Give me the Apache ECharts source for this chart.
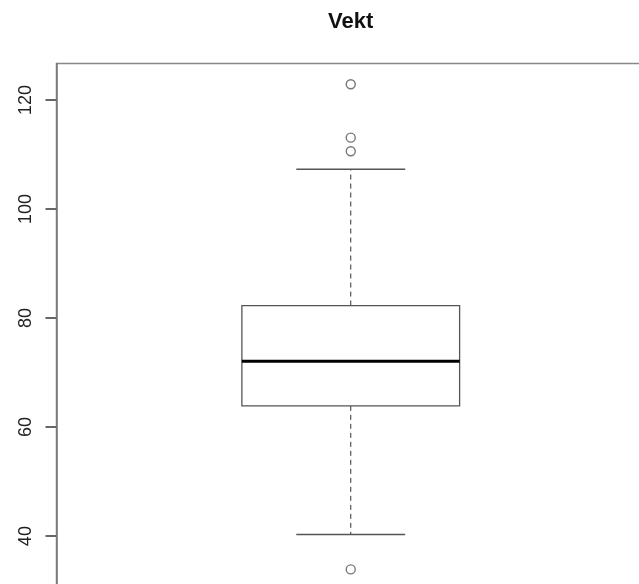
<!DOCTYPE html>
<html>
<head>
<meta charset="utf-8">
<script src="https://cdn.jsdelivr.net/npm/echarts@6/dist/echarts.min.js"></script>
<style>
html,body{margin:0;padding:0;background:#fff;overflow:hidden;}
#chart{width:645px;height:589px;}
</style>
</head>
<body>
<div id="chart"></div>
<script>
// Data
const categories = ['Vekt'];
// [min whisker, Q1, median, Q3, max whisker]
const boxStats = [[40.3, 63.9, 72.1, 82.3, 107.3]];
const outliers = [122.9, 113.1, 110.6, 33.9];
const yTicks = [40, 60, 80, 100, 120];

const chart = echarts.init(document.getElementById('chart'), null, {renderer: 'canvas'});

const boxHalf = 0.37;   // half box width in x-units
const capHalf = 0.185;  // half whisker cap width in x-units

const boxData = boxStats.map((s, i) => [i + 1].concat(s));
const outlierData = outliers.map(v => [1, v]);

chart.setOption({
  animation: false,
  title: {
    text: categories[0],
    left: 323,
    top: 6,
    textStyle: {fontFamily: 'Liberation Sans', fontWeight: 'bold', fontSize: 22, color: '#111'}
  },
  grid: {left: 56.5, right: 0, top: 63.5, bottom: 0, show: true, borderColor: '#888', borderWidth: 1.5},
  xAxis: {type: 'value', min: 0, max: 2, show: false},
  yAxis: {
    type: 'value', min: 30.3, max: 126.7,
    splitLine: {show: false},
    axisLine: {show: true, lineStyle: {color: '#777', width: 1.5}},
    axisTick: {show: true, inside: false, length: 11, lineStyle: {color: '#666', width: 2}, customValues: yTicks},
    axisLabel: {
      rotate: 90, margin: 21, color: '#222', fontSize: 18, fontFamily: 'Liberation Sans',
      customValues: yTicks
    }
  },
  series: [
    {
      type: 'custom',
      data: boxData,
      encode: {x: 0, y: [1, 2, 3, 4, 5]},
      renderItem: function (params, api) {
        const x = api.value(0);
        const lo = api.value(1), q1 = api.value(2), med = api.value(3), q3 = api.value(4), hi = api.value(5);
        const pLo = api.coord([x, lo]), pQ1 = api.coord([x, q1]), pMed = api.coord([x, med]), pQ3 = api.coord([x, q3]), pHi = api.coord([x, hi]);
        const bl = api.coord([x - boxHalf, q1])[0], br = api.coord([x + boxHalf, q1])[0];
        const cl = api.coord([x - capHalf, q1])[0], cr = api.coord([x + capHalf, q1])[0];
        const thin = {stroke: '#555', lineWidth: 1.3, fill: null};
        const dashed = {stroke: '#333', lineWidth: 1, lineDash: [5, 4], fill: null};
        return {
          type: 'group',
          children: [
            {type: 'line', shape: {x1: pQ3[0], y1: pQ3[1], x2: pHi[0], y2: pHi[1]}, style: dashed},
            {type: 'line', shape: {x1: pQ1[0], y1: pQ1[1], x2: pLo[0], y2: pLo[1]}, style: dashed},
            {type: 'line', shape: {x1: cl, y1: pHi[1], x2: cr, y2: pHi[1]}, style: thin},
            {type: 'line', shape: {x1: cl, y1: pLo[1], x2: cr, y2: pLo[1]}, style: thin},
            {type: 'rect', shape: {x: bl, y: pQ3[1], width: br - bl, height: pQ1[1] - pQ3[1]}, style: {stroke: '#555', lineWidth: 1.3, fill: '#fff'}},
            {type: 'line', shape: {x1: bl, y1: pMed[1], x2: br, y2: pMed[1]}, style: {stroke: '#000', lineWidth: 3, fill: null}}
          ]
        };
      }
    },
    {
      type: 'scatter',
      data: outlierData,
      symbol: 'circle',
      symbolSize: 9,
      itemStyle: {color: '#fff', borderColor: '#555', borderWidth: 1.4}
    }
  ]
});
</script>
</body>
</html>
